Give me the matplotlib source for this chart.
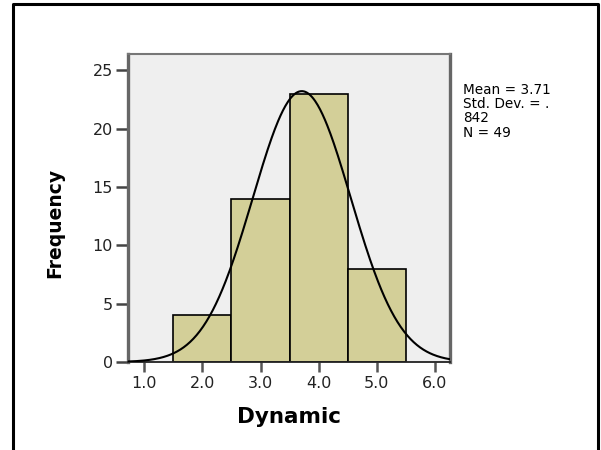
import matplotlib
matplotlib.use('Agg')
import matplotlib.pyplot as plt
import numpy as np
from matplotlib.lines import Line2D

# histogram data (SPSS style output)
bin_edges = [1.5, 2.5, 3.5, 4.5, 5.5]
counts = [4, 14, 23, 8]
mean = 3.71
std = 0.842
n = 49
x_ticks = [1.0, 2.0, 3.0, 4.0, 5.0, 6.0]
x_ticklabels = ['1.0', '2.0', '3.0', '4.0', '5.0', '6.0']
y_ticks = [0, 5, 10, 15, 20, 25]

W, H = 601, 450
fig = plt.figure(figsize=(W / 100, H / 100), dpi=100)

def fx(px):
    return px / W

def fy(py):
    return 1 - py / H

# axes box in pixels
left, right, top, bottom = 128, 450, 54, 362
ax = fig.add_axes([fx(left), fy(bottom), fx(right - left), (bottom - top) / H])
ax.set_facecolor('#efefef')

lefts = bin_edges[:-1]
widths = np.diff(bin_edges)
ax.bar(lefts, counts, width=widths, align='edge', color='#d3cf98',
       edgecolor='black', linewidth=1.2, zorder=2)

xmin, xmax = 0.72, 6.26
xs = np.linspace(xmin, xmax, 400)
binw = widths[0]
ys = n * binw / (std * np.sqrt(2 * np.pi)) * np.exp(-0.5 * ((xs - mean) / std) ** 2)
ax.plot(xs, ys, color='black', linewidth=1.5, zorder=3)

ax.set_xlim(xmin, xmax)
ax.set_ylim(0, 26.4)
ax.set_xticks(x_ticks)
ax.set_xticklabels(x_ticklabels)
ax.set_yticks(y_ticks)

ax.tick_params(axis='x', direction='out', length=7, width=1.8, color='#555555',
               labelsize=11.5, pad=3, labelcolor='#222222')
ax.tick_params(axis='y', direction='out', length=9, width=1.8, color='#444444',
               labelsize=11.5, pad=2, labelcolor='#222222')

for s in ['left', 'right']:
    ax.spines[s].set_color('#666666')
    ax.spines[s].set_linewidth(2.4)
ax.spines['top'].set_color('#777777')
ax.spines['top'].set_linewidth(1.5)
ax.spines['bottom'].set_color('#222222')
ax.spines['bottom'].set_linewidth(1.3)

fig.text(fx(289), fy(417), 'Dynamic', fontsize=15.5, fontweight='bold',
         ha='center', va='center')
fig.text(fx(55), fy(223), 'Frequency', fontsize=13.5, fontweight='bold',
         rotation=90, ha='center', va='center')

stats = 'Mean = {:.2f}\nStd. Dev. = .\n{}\nN = {}'.format(mean, '842', n)
fig.text(fx(463), fy(83), stats, fontsize=9.8, ha='left', va='top',
         linespacing=1.02)

# outer border (no bottom edge)
border = Line2D([fx(13), fx(13), fx(598), fx(598)],
                [fy(452), fy(4), fy(4), fy(452)],
                transform=fig.transFigure, color='black', linewidth=2.2)
fig.add_artist(border)

fig.savefig('out.png', dpi=100)
